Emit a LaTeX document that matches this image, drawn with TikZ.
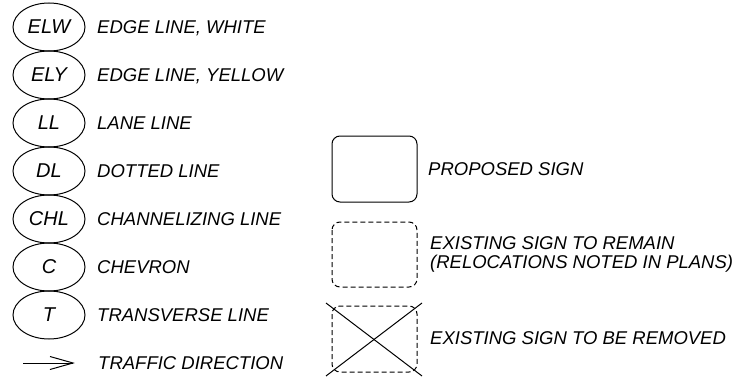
\documentclass[tikz,border=0pt]{standalone}
\usepackage{fontspec}
\setmainfont{Liberation Sans}
\usetikzlibrary{shapes.geometric}
\begin{document}
\begin{tikzpicture}[x=1pt,y=-1pt,
  abbr/.style={ellipse,draw,line width=1pt,minimum width=72pt,minimum height=48pt,inner sep=0pt,font=\fontsize{20}{22}\selectfont\itshape},
  lbl/.style={anchor=base west,inner sep=0pt,font=\fontsize{18.5}{20}\selectfont\itshape},
  signbox/.style={draw,line width=1pt,rounded corners=8pt},
  dashbox/.style={draw,line width=1pt,rounded corners=8pt,dash pattern=on 5pt off 3pt}]
\useasboundingbox (0,0) rectangle (741,385);
\foreach \t/\d/\y in {ELW/EDGE LINE{,} WHITE/27, ELY/EDGE LINE{,} YELLOW/75, LL/LANE LINE/123, DL/DOTTED LINE/171, CHL/CHANNELIZING LINE/219, C/CHEVRON/267, T/TRANSVERSE LINE/315}{
  \node[abbr] (e\t) at (49,\y) {\t};
  \node[lbl] (l\t) at (97,\y+6.6) {\d};
}
% traffic direction arrow
\coordinate (a0) at (23,363);
\coordinate (a1) at (73,363);
\coordinate (a2) at (50,356.5);
\coordinate (a3) at (50,369.5);
\draw[line width=1pt] (a0) -- (a1);
\draw[line width=1pt] (a2) -- (a1) -- (a3);
\node[lbl] (ltd) at (98,363+6.6) {TRAFFIC DIRECTION};
% signs
\draw[signbox] (332,136) rectangle (417,202);
\node[lbl] (lps) at (428,169+6.6) {PROPOSED SIGN};
\draw[dashbox] (332,222) rectangle (417,287);
\node[lbl] (lre1) at (430,243+6.6) {EXISTING SIGN TO REMAIN};
\node[lbl] (lre2) at (430,262+6.6) {(RELOCATIONS NOTED IN PLANS)};
\draw[dashbox] (332,306) rectangle (417,372);
\coordinate (x1) at (326,303);
\coordinate (x2) at (422,376);
\coordinate (x3) at (326,376);
\coordinate (x4) at (422,303);
\draw[line width=1pt] (x1) -- (x2);
\draw[line width=1pt] (x3) -- (x4);
\node[lbl] (lrm) at (430,338+6.6) {EXISTING SIGN TO BE REMOVED};
\end{tikzpicture}
\end{document}
